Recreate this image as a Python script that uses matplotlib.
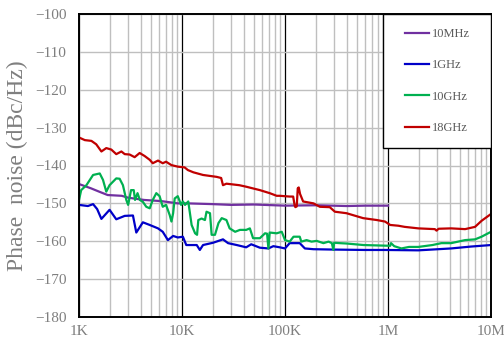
import matplotlib
matplotlib.use("Agg")
import matplotlib.pyplot as plt
from matplotlib.patches import Rectangle
from matplotlib.ticker import FixedLocator, NullFormatter

# ---- data (offset frequency in Hz, phase noise in dBc/Hz) ----
f_10m = [1000, 1300, 1600, 1900, 2600, 3000, 4300, 6300, 9100, 11400, 20000,
         30000, 50000, 100000, 200000, 400000, 600000, 1000000]
pn_10m = [-144.9, -146.0, -147.0, -147.8, -148.0, -148.5, -149.1, -149.4, -150.0,
          -150.0, -150.2, -150.4, -150.3, -150.6, -150.5, -150.7, -150.6, -150.6]

f_1g = [1000, 1220, 1370, 1500, 1650, 1980, 2300, 2780, 3340, 3600, 4170, 4860,
        5850, 6500, 7300, 8200, 9100, 10200, 11000, 13900, 14900, 16000, 20000,
        25000, 28000, 34000, 42000, 47000, 57000, 69000, 77000, 89000, 100000,
        111000, 139000, 156000, 189000, 300000, 600000, 935000, 1970000,
        4100000, 6400000, 10000000]
pn_1g = [-150.4, -150.7, -150.2, -151.5, -154.1, -151.7, -154.2, -153.3, -153.2,
         -157.7, -155.0, -155.7, -156.6, -157.5, -159.7, -158.6, -159.0, -158.8,
         -161.0, -161.0, -162.3, -161.0, -160.4, -159.5, -160.5, -161.0, -161.6,
         -160.8, -161.7, -161.9, -161.3, -161.6, -161.9, -160.5, -160.5, -161.9,
         -162.1, -162.2, -162.3, -162.3, -162.4, -161.9, -161.4, -161.0]

f_10g = [1000, 1050, 1180, 1370, 1590, 1710, 1840, 1980, 2300, 2480, 2670, 2880,
         3000, 3200, 3400, 3500, 3700, 3900, 4170, 4500, 4860, 5200, 5630, 6060,
         6500, 7000, 7600, 7900, 8200, 8500, 9100, 9800, 10200, 10700, 11500,
         12400, 13400, 14000, 14400, 15500, 16700, 17300, 18700, 19400, 20900,
         22600, 24300, 27000, 29000, 32800, 36500, 42000, 45600, 49000, 57000,
         64000, 67000, 69000, 71000, 83000, 93000, 100000, 111000, 121000,
         139000, 144000, 162000, 181000, 203000, 236000, 265000, 285000, 295000,
         300000, 340000, 397000, 580000, 1050000, 1070000, 1150000, 1350000,
         1600000, 1970000, 2700000, 3300000, 4100000, 5600000, 7000000,
         8100000, 10000000]
pn_10g = [-149.1, -146.5, -145.2, -142.5, -142.1, -143.8, -146.9, -145.2, -143.4,
          -143.5, -145.2, -149.1, -150.4, -146.5, -146.5, -149.1, -147.3, -149.1,
          -149.6, -150.9, -151.3, -149.1, -147.3, -148.1, -150.9, -150.4, -153.1,
          -154.8, -152.6, -148.7, -148.1, -150.4, -149.5, -150.4, -149.5, -155.7,
          -157.9, -158.3, -154.4, -154.0, -154.4, -152.2, -152.6, -158.3, -158.3,
          -155.2, -153.9, -154.4, -156.6, -157.5, -157.0, -157.0, -156.6, -159.2,
          -159.2, -157.9, -158.0, -161.9, -157.7, -157.9, -157.5, -159.7, -160.1,
          -158.8, -158.8, -160.1, -159.7, -160.1, -159.9, -160.5, -160.1, -160.5,
          -162.3, -160.4, -160.5, -160.6, -161.0, -161.2, -160.5, -161.3, -161.9,
          -161.5, -161.5, -161.0, -160.5, -160.5, -159.7, -159.5, -158.8, -157.5]

f_18g = [1000, 1140, 1320, 1470, 1650, 1840, 2060, 2300, 2580, 2780, 3100, 3470,
         3880, 4340, 4860, 5200, 5850, 6500, 7000, 7900, 9100, 10600, 11400,
         12900, 16000, 21700, 24000, 25000, 27000, 36000, 42000, 57000, 71000,
         83000, 89000, 111000, 120000, 124000, 126000, 130000, 133000, 136000,
         140000, 150000, 189000, 218000, 272000, 305000, 396000, 574000, 780000,
         935000, 1050000, 1260000, 1450000, 1970000, 2850000, 2960000, 3100000,
         4100000, 5600000, 7000000, 8100000, 10000000]
pn_18g = [-132.6, -133.3, -133.5, -134.4, -136.3, -135.4, -135.8, -137.0, -136.3,
          -137.0, -137.1, -137.8, -136.7, -137.5, -138.5, -139.4, -138.7, -139.4,
          -139.0, -139.9, -140.3, -140.5, -141.2, -141.8, -142.5, -143.0, -143.3,
          -145.2, -144.8, -145.2, -145.6, -146.5, -147.3, -148.0, -148.0, -148.2,
          -148.2, -150.5, -151.0, -150.8, -146.0, -145.8, -147.5, -149.5, -150.0,
          -150.9, -151.0, -152.2, -152.6, -153.9, -154.4, -154.8, -155.7, -155.9,
          -156.2, -156.6, -156.8, -157.2, -156.7, -156.6, -156.8, -156.2, -154.6,
          -152.8]

series_labels = ["10MHz", "1GHz", "10GHz", "18GHz"]
series_colors = ["#7030A0", "#0000C8", "#00B050", "#C00000"]

x_ticks = [1e3, 1e4, 1e5, 1e6, 1e7]
x_ticklabels = ["1K", "10K", "100K", "1M", "10M"]
y_ticks = [-100, -110, -120, -130, -140, -150, -160, -170, -180]

# ---- figure ----
fig = plt.figure(figsize=(5.04, 3.45), dpi=100)
ax = fig.add_axes([79 / 504, 1 - 317 / 345, 412 / 504, 303 / 345])

serif = "Liberation Serif"
gray_txt = "#7F7F7F"

ax.set_xscale("log")
ax.set_xlim(1e3, 1e7)
ax.set_ylim(-180, -100)

# grid
ax.xaxis.set_major_locator(FixedLocator(x_ticks))
minor = [m * d for d in [1e3, 1e4, 1e5, 1e6] for m in range(2, 10)]
ax.xaxis.set_minor_locator(FixedLocator(minor))
ax.xaxis.set_minor_formatter(NullFormatter())
ax.set_yticks(y_ticks)
ax.grid(which="minor", axis="x", color="#BFBFBF", lw=1.0)
ax.grid(which="major", axis="y", color="#BFBFBF", lw=1.0)
ax.grid(which="major", axis="x", color="black", lw=0.9)
ax.set_axisbelow(True)

for s in ax.spines.values():
    s.set_color("black")
    s.set_linewidth(1.4)

ax.set_xticklabels(x_ticklabels)
ax.set_yticklabels([f"\u2212{abs(v)}" for v in y_ticks])
ax.tick_params(which="both", length=0)
ax.tick_params(axis="x", pad=6)
ax.tick_params(axis="y", pad=9)
for lab in ax.get_xticklabels() + ax.get_yticklabels():
    lab.set_fontfamily(serif)
    lab.set_fontsize(11)
    lab.set_color(gray_txt)

ax.set_ylabel("Phase  noise (dBc/Hz)", fontfamily=serif,
              fontsize=17, color=gray_txt, labelpad=5)

data = [(f_10m, pn_10m), (f_1g, pn_1g), (f_10g, pn_10g), (f_18g, pn_18g)]
handles = []
for (f, p), lab, col in zip(data, series_labels, series_colors):
    h, = ax.plot(f, p, color=col, lw=1.6, label=lab, solid_joinstyle="round")
    handles.append(h)

# legend box
box = Rectangle((304 / 412, 1 - 134 / 303), 108 / 412, 134 / 303,
                transform=ax.transAxes, facecolor="white", edgecolor="black",
                lw=1.0, zorder=5)
ax.add_patch(box)
leg = ax.legend(handles=handles, loc="center", bbox_to_anchor=(0.871, 0.779),
                frameon=False, prop={"family": serif, "size": 9},
                handlelength=1.85, handletextpad=0.3, labelspacing=1.55)
leg.set_zorder(6)
for t in leg.get_texts():
    t.set_color("#595959")

fig.savefig("out.png", dpi=100)
